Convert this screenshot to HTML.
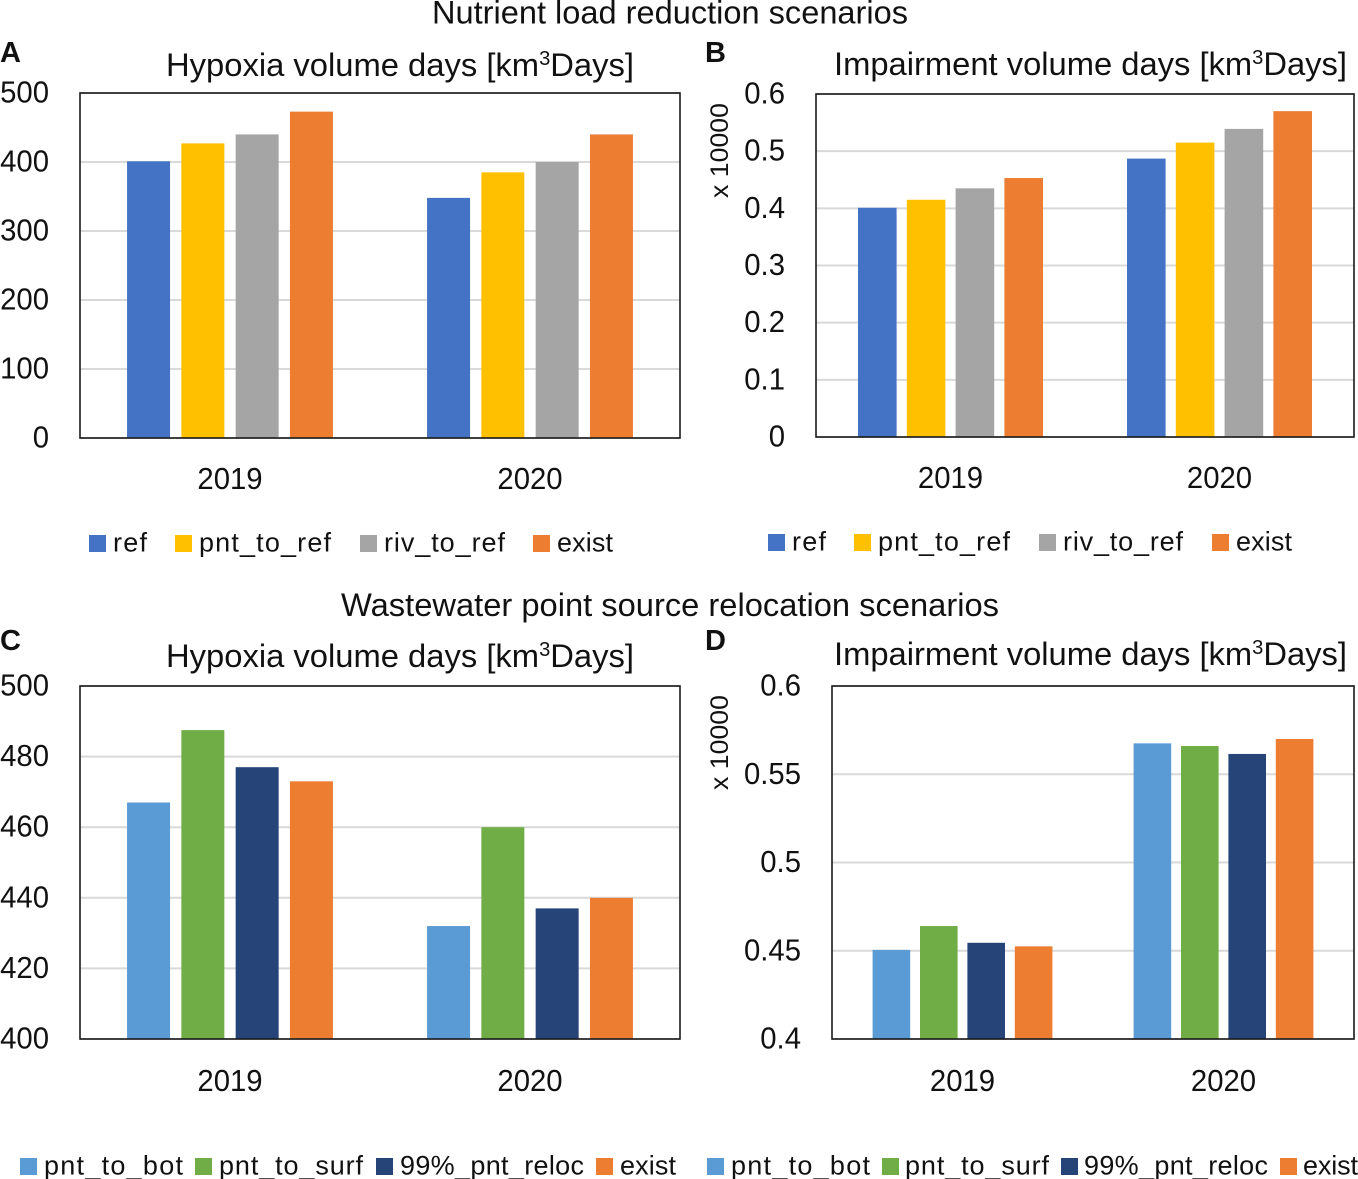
<!DOCTYPE html>
<html lang="en">
<head>
<meta charset="utf-8">
<title>Nutrient load and relocation scenarios</title>
<style>
html,body{margin:0;padding:0;background:#fff;}
svg{display:block;}
text{font-family:"Liberation Sans",Arial,sans-serif;fill:#111;}
</style>
</head>
<body>
<svg id="figure" xmlns="http://www.w3.org/2000/svg" width="1358" height="1179" viewBox="0 0 1358 1179">
  <rect width="1358" height="1179" fill="#fff"/>
  <text x="432" y="23.5" font-size="32.5" textLength="476" lengthAdjust="spacingAndGlyphs">Nutrient load reduction scenarios</text>
  <text x="341" y="616" font-size="32.5" textLength="658" lengthAdjust="spacingAndGlyphs">Wastewater point source relocation scenarios</text>
  <text x="0" y="62" font-size="29" font-weight="bold">A</text>
  <text x="705" y="62" font-size="29" font-weight="bold">B</text>
  <text x="0" y="650" font-size="29" font-weight="bold">C</text>
  <text x="705" y="650" font-size="29" font-weight="bold">D</text>
  <text x="166" y="76" font-size="32.5" textLength="468" lengthAdjust="spacingAndGlyphs">Hypoxia volume days [km<tspan font-size="20" dy="-11">3</tspan><tspan dy="11">Days]</tspan></text>
  <text x="834" y="75" font-size="32.5" textLength="513" lengthAdjust="spacingAndGlyphs">Impairment volume days [km<tspan font-size="20" dy="-11">3</tspan><tspan dy="11">Days]</tspan></text>
  <text x="166" y="667" font-size="32.5" textLength="468" lengthAdjust="spacingAndGlyphs">Hypoxia volume days [km<tspan font-size="20" dy="-11">3</tspan><tspan dy="11">Days]</tspan></text>
  <text x="834" y="665" font-size="32.5" textLength="513" lengthAdjust="spacingAndGlyphs">Impairment volume days [km<tspan font-size="20" dy="-11">3</tspan><tspan dy="11">Days]</tspan></text>
  <text transform="translate(728,198) rotate(-90)" font-size="25" textLength="95" lengthAdjust="spacingAndGlyphs">x 10000</text>
  <text transform="translate(728,790) rotate(-90)" font-size="25" textLength="95" lengthAdjust="spacingAndGlyphs">x 10000</text>
</svg>
<script>
const years = ["2019", "2020"];

const namesTop = ["ref", "pnt_to_ref", "riv_to_ref", "exist"];
const namesBottom = ["pnt_to_bot", "pnt_to_surf", "99%_pnt_reloc", "exist"];

const colorsTop = ["#4472c4", "#ffc000", "#a5a5a5", "#ed7d31"];
const colorsBottom = ["#5b9bd5", "#70ad47", "#264478", "#ed7d31"];

const ticksA = [0, 100, 200, 300, 400, 500];
const valuesA = [[401, 348], [427, 385], [440, 400], [473, 440]];

const ticksB = [0, 0.1, 0.2, 0.3, 0.4, 0.5, 0.6];
const valuesB = [[0.401, 0.487], [0.415, 0.515], [0.435, 0.539], [0.453, 0.570]];

const ticksC = [400, 420, 440, 460, 480, 500];
const valuesC = [[467, 432], [487.5, 460], [477, 437], [473, 440]];

const ticksD = [0.4, 0.45, 0.5, 0.55, 0.6];
const valuesD = [[0.4505, 0.5675], [0.464, 0.566], [0.4545, 0.5615], [0.4525, 0.570]];

const layouts = [
  {id: "a", left: 80, right: 680, top: 93, bottom: 438, barW: 43, step: 54.3, tickRight: 49, yearY: 489,
   ticks: ticksA, values: valuesA, names: namesTop, colors: colorsTop,
   legendSwatch: [89, 175, 360, 533], legendText: [113, 199, 384, 557], legendWidth: [34, 132, 121, 56], legendY: 551.5},
  {id: "b", left: 816, right: 1354, top: 94, bottom: 437, barW: 38.6, step: 48.8, tickRight: 785, yearY: 488,
   ticks: ticksB, values: valuesB, names: namesTop, colors: colorsTop,
   legendSwatch: [768, 854, 1039, 1212], legendText: [792, 878, 1063, 1236], legendWidth: [34, 132, 120, 56], legendY: 550.5},
  {id: "c", left: 80, right: 680, top: 686, bottom: 1039, barW: 43, step: 54.3, tickRight: 49, yearY: 1091,
   ticks: ticksC, values: valuesC, names: namesBottom, colors: colorsBottom,
   legendSwatch: [20, 195, 376, 596], legendText: [44, 219, 400, 620], legendWidth: [139, 144, 184, 56], legendY: 1174.5},
  {id: "d", left: 832, right: 1354, top: 686, bottom: 1039, barW: 37.6, step: 47.4, tickRight: 801, yearY: 1091,
   ticks: ticksD, values: valuesD, names: namesBottom, colors: colorsBottom,
   legendSwatch: [707, 882, 1061, 1280], legendText: [731, 905, 1084, 1303], legendWidth: [139, 144, 184, 55], legendY: 1174.5}
];

const svgNS = "http://www.w3.org/2000/svg";
const figure = document.getElementById("figure");

function make(tag, attrs, text) {
  const el = document.createElementNS(svgNS, tag);
  Object.keys(attrs).forEach(function (k) { el.setAttribute(k, attrs[k]); });
  if (text !== undefined) el.textContent = text;
  figure.appendChild(el);
  return el;
}

function condense(el, measureSize, drawSize) {
  el.setAttribute("font-size", measureSize);
  const w = el.getComputedTextLength();
  el.setAttribute("font-size", drawSize);
  el.setAttribute("textLength", w);
  el.setAttribute("lengthAdjust", "spacingAndGlyphs");
}

layouts.forEach(function (p) {
  const lo = p.ticks[0];
  const hi = p.ticks[p.ticks.length - 1];
  const yScale = function (v) { return p.bottom - (v - lo) / (hi - lo) * (p.bottom - p.top); };
  const groupCenter = function (i) { return p.left + (i + 0.5) * (p.right - p.left) / years.length; };
  const barLeft = function (g, s) { return groupCenter(g) - (p.step * (p.names.length - 1) + p.barW) / 2 + s * p.step; };

  p.ticks.forEach(function (t) {
    const grid = make("line", {x1: p.left, x2: p.right, y1: yScale(t), y2: yScale(t), stroke: "#d9d9d9", "stroke-width": 2});
    
    
    const label = make("text", {x: p.tickRight, y: yScale(t) + 9.5, "font-size": 29, "text-anchor": "end"}, String(t));
    condense(label, 29.3, 30.5);
    
    
  });

  p.values.forEach(function (series, s) {
    series.forEach(function (v, g) {
      const bar = make("rect", {x: barLeft(g, s), y: yScale(v), width: p.barW, height: p.bottom - yScale(v), fill: p.colors[s]});
      
      
    });
  });

  const frame = make("rect", {x: p.left, y: p.top, width: p.right - p.left, height: p.bottom - p.top, fill: "none", stroke: "#1a1a1a", "stroke-width": 1.6});
  
  

  years.forEach(function (year, g) {
    const yearLabel = make("text", {x: groupCenter(g), y: p.yearY, "font-size": 29, "text-anchor": "middle"}, year);
    condense(yearLabel, 29.3, 30.5);
    
    
  });

  p.names.forEach(function (name, s) {
    const swatch = make("rect", {x: p.legendSwatch[s], y: p.legendY - 16.5, width: 17, height: 17, fill: p.colors[s]});
    
    
    const entry = make("text", {x: p.legendText[s], y: p.legendY, "font-size": 27, textLength: p.legendWidth[s], lengthAdjust: "spacing"}, name);
    
    
  });
});
</script>
</body>
</html>
